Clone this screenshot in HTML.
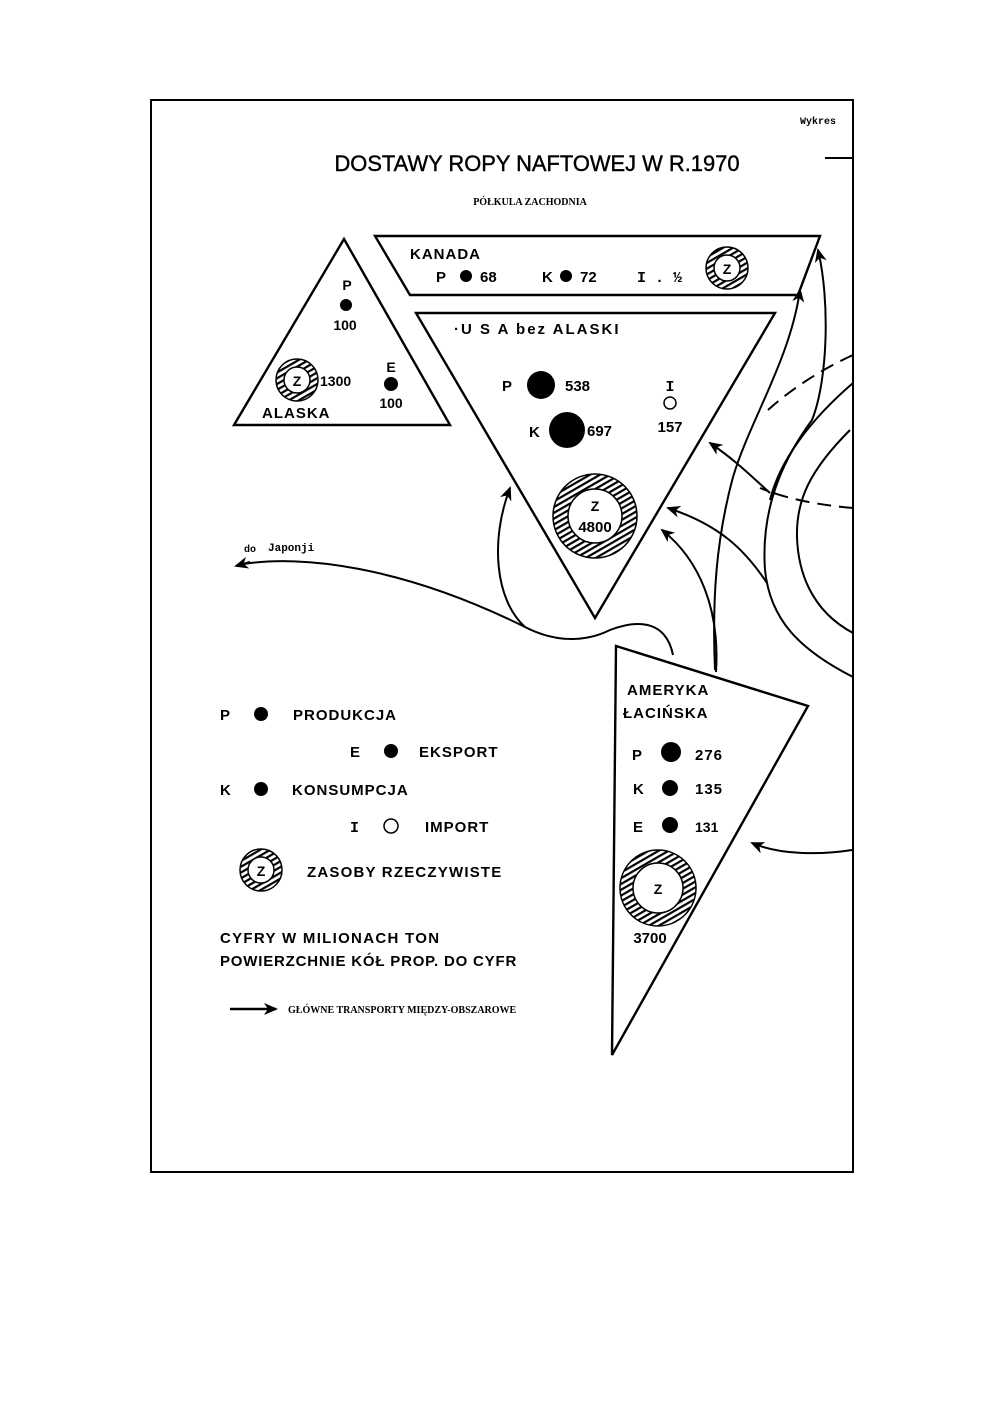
<!DOCTYPE html>
<html><head><meta charset="utf-8"><style>
html,body{margin:0;padding:0;background:#fff;}
svg{display:block;}
.s{font-family:"Liberation Sans","DejaVu Sans",sans-serif;font-weight:bold;fill:#000;}
.m{font-family:"Liberation Mono","DejaVu Sans Mono",monospace;font-weight:bold;fill:#000;}
</style></head><body>
<svg width="1000" height="1420" viewBox="0 0 1000 1420" xmlns="http://www.w3.org/2000/svg">
<defs>
<pattern id="h" patternUnits="userSpaceOnUse" width="5" height="5" patternTransform="rotate(60)">
<rect width="5" height="5" fill="#fff"/><rect width="2.2" height="5" fill="#000"/>
</pattern>
<marker id="a" markerWidth="14" markerHeight="14" refX="12" refY="7" orient="auto" markerUnits="userSpaceOnUse">
<path d="M0,1 L14,7 L0,13 L4,7 Z" fill="#000"/>
</marker>
</defs>
<rect x="0" y="0" width="1000" height="1420" fill="#fff"/>
<rect x="151" y="100" width="702" height="1072" fill="none" stroke="#000" stroke-width="2"/>
<line x1="825" y1="158" x2="853" y2="158" stroke="#000" stroke-width="2"/>
<text x="800" y="124" class="m" font-size="10">Wykres</text>
<text x="537" y="171" text-anchor="middle" font-family="Liberation Sans,sans-serif" font-size="22" fill="#000" stroke="#000" stroke-width="0.4" textLength="405" lengthAdjust="spacingAndGlyphs">DOSTAWY  ROPY NAFTOWEJ W R.1970</text>
<text x="530" y="205" text-anchor="middle" font-family="Liberation Serif,serif" font-weight="bold" font-size="10" fill="#000">PÓŁKULA ZACHODNIA</text>

<g fill="none" stroke="#000" stroke-width="2.4">
<polygon points="344,239 234,425 450,425"/>
<polygon points="375,236 820,236 798,295 410,295"/>
<polygon points="416,313 775,313 595,618"/>
<polygon points="616,646 808,706 612,1055"/>
</g>

<g fill="none" stroke="#000" stroke-width="2">
<path d="M244,564 C300,555 400,565 525,627 C560,645 590,640 610,630 C650,615 668,630 673,655"/>
<path d="M250,562 L236,566" marker-end="url(#a)"/>
<path d="M525,627 C495,600 490,540 510,488" marker-end="url(#a)"/>
<path d="M716,672 C720,610 700,560 662,530" marker-end="url(#a)"/>
<path d="M767,583 C745,550 720,525 668,508" marker-end="url(#a)"/>
<path d="M770,493 C750,475 735,460 710,443" marker-end="url(#a)"/>
<path d="M715,670 C712,600 716,540 733,477 C750,420 790,360 800,290" marker-end="url(#a)"/>
<path d="M853,677 C800,650 770,620 765,570 C760,500 790,450 812,420 C828,380 830,300 818,250" marker-end="url(#a)"/>
<path d="M853,633 C810,610 798,570 797,537 C796,500 810,470 850,430"/>
<path d="M853,383 C810,420 780,460 770,500"/>
<path d="M852,850 C820,855 780,855 752,843" marker-end="url(#a)"/>
<path d="M853,508 C820,505 790,500 760,488" stroke-dasharray="14,8"/>
<path d="M853,355 C820,370 790,390 768,410" stroke-dasharray="14,8"/>
</g>

<g stroke="#000" stroke-width="1.5">
<circle cx="297" cy="380" r="21" fill="url(#h)"/><circle cx="297" cy="380" r="13" fill="#fff"/>
<circle cx="727" cy="268" r="21" fill="url(#h)"/><circle cx="727" cy="268" r="13" fill="#fff"/>
<circle cx="595" cy="516" r="42" fill="url(#h)"/><circle cx="595" cy="516" r="27" fill="#fff"/>
<circle cx="658" cy="888" r="38" fill="url(#h)"/><circle cx="658" cy="888" r="25" fill="#fff"/>
<circle cx="261" cy="870" r="21" fill="url(#h)"/><circle cx="261" cy="870" r="13" fill="#fff"/>
</g>

<text x="347" y="290" class="s" font-size="14" text-anchor="middle">P</text>
<circle cx="346" cy="305" r="6"/>
<text x="345" y="330" class="s" font-size="14" text-anchor="middle">100</text>
<text x="297" y="386" class="s" font-size="14" text-anchor="middle">Z</text>
<text x="320" y="386" class="s" font-size="14">1300</text>
<text x="391" y="372" class="s" font-size="14" text-anchor="middle">E</text>
<circle cx="391" cy="384" r="7"/>
<text x="391" y="408" class="s" font-size="14" text-anchor="middle">100</text>
<text x="262" y="418" class="s" font-size="15" letter-spacing="1">ALASKA</text>

<text x="410" y="259" class="s" font-size="15" letter-spacing="1">KANADA</text>
<text x="436" y="282" class="s" font-size="15">P</text>
<circle cx="466" cy="276" r="6"/>
<text x="480" y="282" class="s" font-size="15">68</text>
<text x="542" y="282" class="s" font-size="15">K</text>
<circle cx="566" cy="276" r="6"/>
<text x="580" y="282" class="s" font-size="15">72</text>
<text x="637" y="282" class="m" font-size="15">I . ½</text>
<text x="727" y="274" class="s" font-size="14" text-anchor="middle">Z</text>

<text x="454" y="334" class="s" font-size="15" letter-spacing="2">·U S A  bez  ALASKI</text>
<text x="502" y="391" class="s" font-size="15">P</text>
<circle cx="541" cy="385" r="14"/>
<text x="565" y="391" class="s" font-size="15">538</text>
<text x="529" y="437" class="s" font-size="15">K</text>
<circle cx="567" cy="430" r="18"/>
<text x="587" y="436" class="s" font-size="15">697</text>
<text x="670" y="391" class="m" font-size="15" text-anchor="middle">I</text>
<circle cx="670" cy="403" r="6" fill="#fff" stroke="#000" stroke-width="1.5"/>
<text x="670" y="432" class="s" font-size="15" text-anchor="middle">157</text>
<text x="595" y="511" class="s" font-size="14" text-anchor="middle">Z</text>
<text x="595" y="532" class="s" font-size="15" text-anchor="middle">4800</text>

<text x="244" y="552" class="m" font-size="10">do</text>
<text x="268" y="551" class="m" font-size="11">Japonji</text>

<text x="627" y="695" class="s" font-size="15" letter-spacing="1">AMERYKA</text>
<text x="623" y="718" class="s" font-size="15" letter-spacing="1">ŁACIŃSKA</text>
<text x="632" y="760" class="s" font-size="15">P</text>
<circle cx="671" cy="752" r="10"/>
<text x="695" y="760" class="s" font-size="15" letter-spacing="1">276</text>
<text x="633" y="794" class="s" font-size="15">K</text>
<circle cx="670" cy="788" r="8"/>
<text x="695" y="794" class="s" font-size="15" letter-spacing="1">135</text>
<text x="633" y="832" class="s" font-size="15">E</text>
<circle cx="670" cy="825" r="8"/>
<text x="695" y="832" class="s" font-size="14">131</text>
<text x="658" y="894" class="s" font-size="14" text-anchor="middle">Z</text>
<text x="650" y="943" class="s" font-size="15" text-anchor="middle">3700</text>

<g letter-spacing="1">
<text x="220" y="720" class="s" font-size="15">P</text>
<text x="293" y="720" class="s" font-size="15">PRODUKCJA</text>
<text x="350" y="757" class="s" font-size="15">E</text>
<text x="419" y="757" class="s" font-size="15">EKSPORT</text>
<text x="220" y="795" class="s" font-size="15">K</text>
<text x="292" y="795" class="s" font-size="15">KONSUMPCJA</text>
<text x="425" y="832" class="s" font-size="15">IMPORT</text>
<text x="307" y="877" class="s" font-size="15" letter-spacing="1.2">ZASOBY  RZECZYWISTE</text>
<text x="220" y="943" class="s" font-size="15" letter-spacing="1.3">CYFRY  W  MILIONACH  TON</text>
<text x="220" y="966" class="s" font-size="15" letter-spacing="0.8">POWIERZCHNIE  KÓŁ  PROP.  DO  CYFR</text>
</g>
<circle cx="261" cy="714" r="7"/>
<circle cx="391" cy="751" r="7"/>
<circle cx="261" cy="789" r="7"/>
<text x="350" y="832" class="m" font-size="15">I</text>
<circle cx="391" cy="826" r="7" fill="#fff" stroke="#000" stroke-width="1.5"/>
<text x="261" y="876" class="s" font-size="14" text-anchor="middle">Z</text>
<line x1="230" y1="1009" x2="276" y2="1009" stroke="#000" stroke-width="2.5" marker-end="url(#a)"/>
<text x="288" y="1013" font-family="Liberation Serif,serif" font-weight="bold" font-size="10" fill="#000">GŁÓWNE TRANSPORTY MIĘDZY-OBSZAROWE</text>
</svg>
</body></html>
